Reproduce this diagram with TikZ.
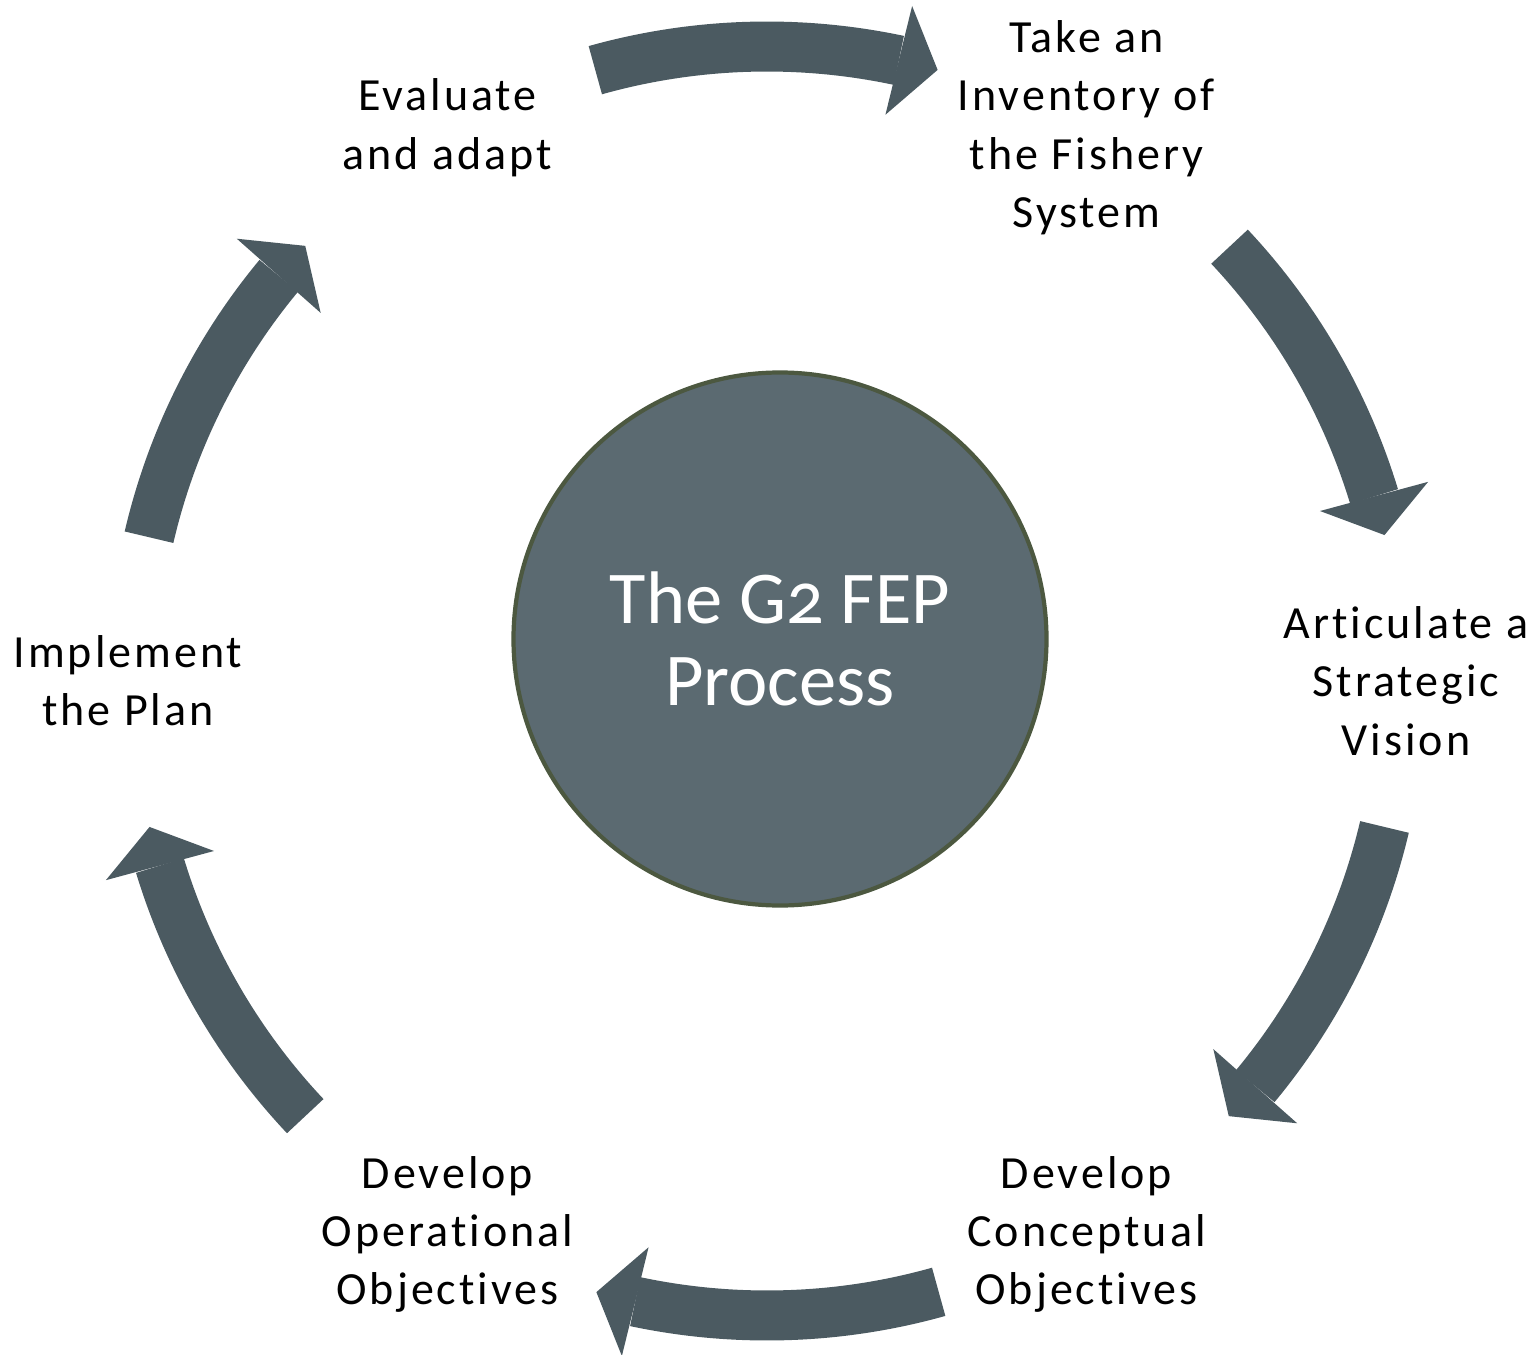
\documentclass[tikz,border=0pt]{standalone}
\usepackage{fontspec}
\setmainfont{Carlito}[Ligatures = NoCommon]
\newfontfamily\labelfont{Carlito}[LetterSpace = 6.5, Ligatures = NoCommon]
\newfontfamily\discfont{Carlito}[Numbers = OldStyle, Ligatures = NoCommon]
\usetikzlibrary{arrows.meta}
\usetikzlibrary{bending}
\tikzset{>=latex}
\definecolor{arrowgray}{RGB}{75, 90, 97}
\definecolor{discgray}{RGB}{91, 106, 113}
\definecolor{discedge}{RGB}{76, 88, 64}
\tikzset{
  cyclearrow/.style = {line width = 0.5cm, arrowgray, -{Triangle[width = 1.12cm, length = 0.4cm, line width = 0pt]}},
  steplabel/.style = {align = center, inner sep = 0pt, font = \labelfont\fontsize{13.1pt}{16.6pt}\selectfont},
}
\begin{document}
\begin{tikzpicture}
\useasboundingbox (-7.67,-6.73) rectangle (7.70,6.81);
% centre disc
\node[circle, draw = discedge, fill = discgray, line width = 1.2pt, minimum size = 5.33cm, inner sep = 0pt,
  text = white, align = center, font = \discfont\fontsize{21.2pt}{23.3pt}\selectfont] (fep) at (0.13,0.42) {The G2 FEP\\Process};
% the six steps
\node[steplabel] (inventory) at (60:6.39) {Take an\\Inventory of\\the Fishery\\System};
\node[steplabel] (vision) at (0:6.39) {Articulate a\\Strategic\\Vision};
\node[steplabel] (conceptual) at (-60:6.39) {Develop\\Conceptual\\Objectives};
\node[steplabel] (operational) at (-120:6.39) {Develop\\Operational\\Objectives};
\node[steplabel] (implement) at (180:6.39) {Implement\\the Plan};
\node[steplabel] (evaluate) at (120:6.39) {Evaluate\\and adapt};
% arrow tails
\coordinate (a1) at (105.7:6.345);
\coordinate (a2) at (43.2:6.345);
\coordinate (a3) at (-13.3:6.345);
\coordinate (a4) at (-74.3:6.345);
\coordinate (a5) at (-136.7:6.345);
\coordinate (a6) at (166.9:6.345);
\draw[cyclearrow] (a1) arc[start angle = 105.7, end angle = 74.4, radius = 6.345];
\draw[cyclearrow] (a2) arc[start angle = 43.2, end angle = 13.3, radius = 6.345];
\draw[cyclearrow] (a3) arc[start angle = -13.3, end angle = -43.3, radius = 6.345];
\draw[cyclearrow] (a4) arc[start angle = -74.3, end angle = -105.6, radius = 6.345];
\draw[cyclearrow] (a5) arc[start angle = -136.7, end angle = -166.7, radius = 6.345];
\draw[cyclearrow] (a6) arc[start angle = 166.9, end angle = 136.7, radius = 6.345];
\end{tikzpicture}
\end{document}
